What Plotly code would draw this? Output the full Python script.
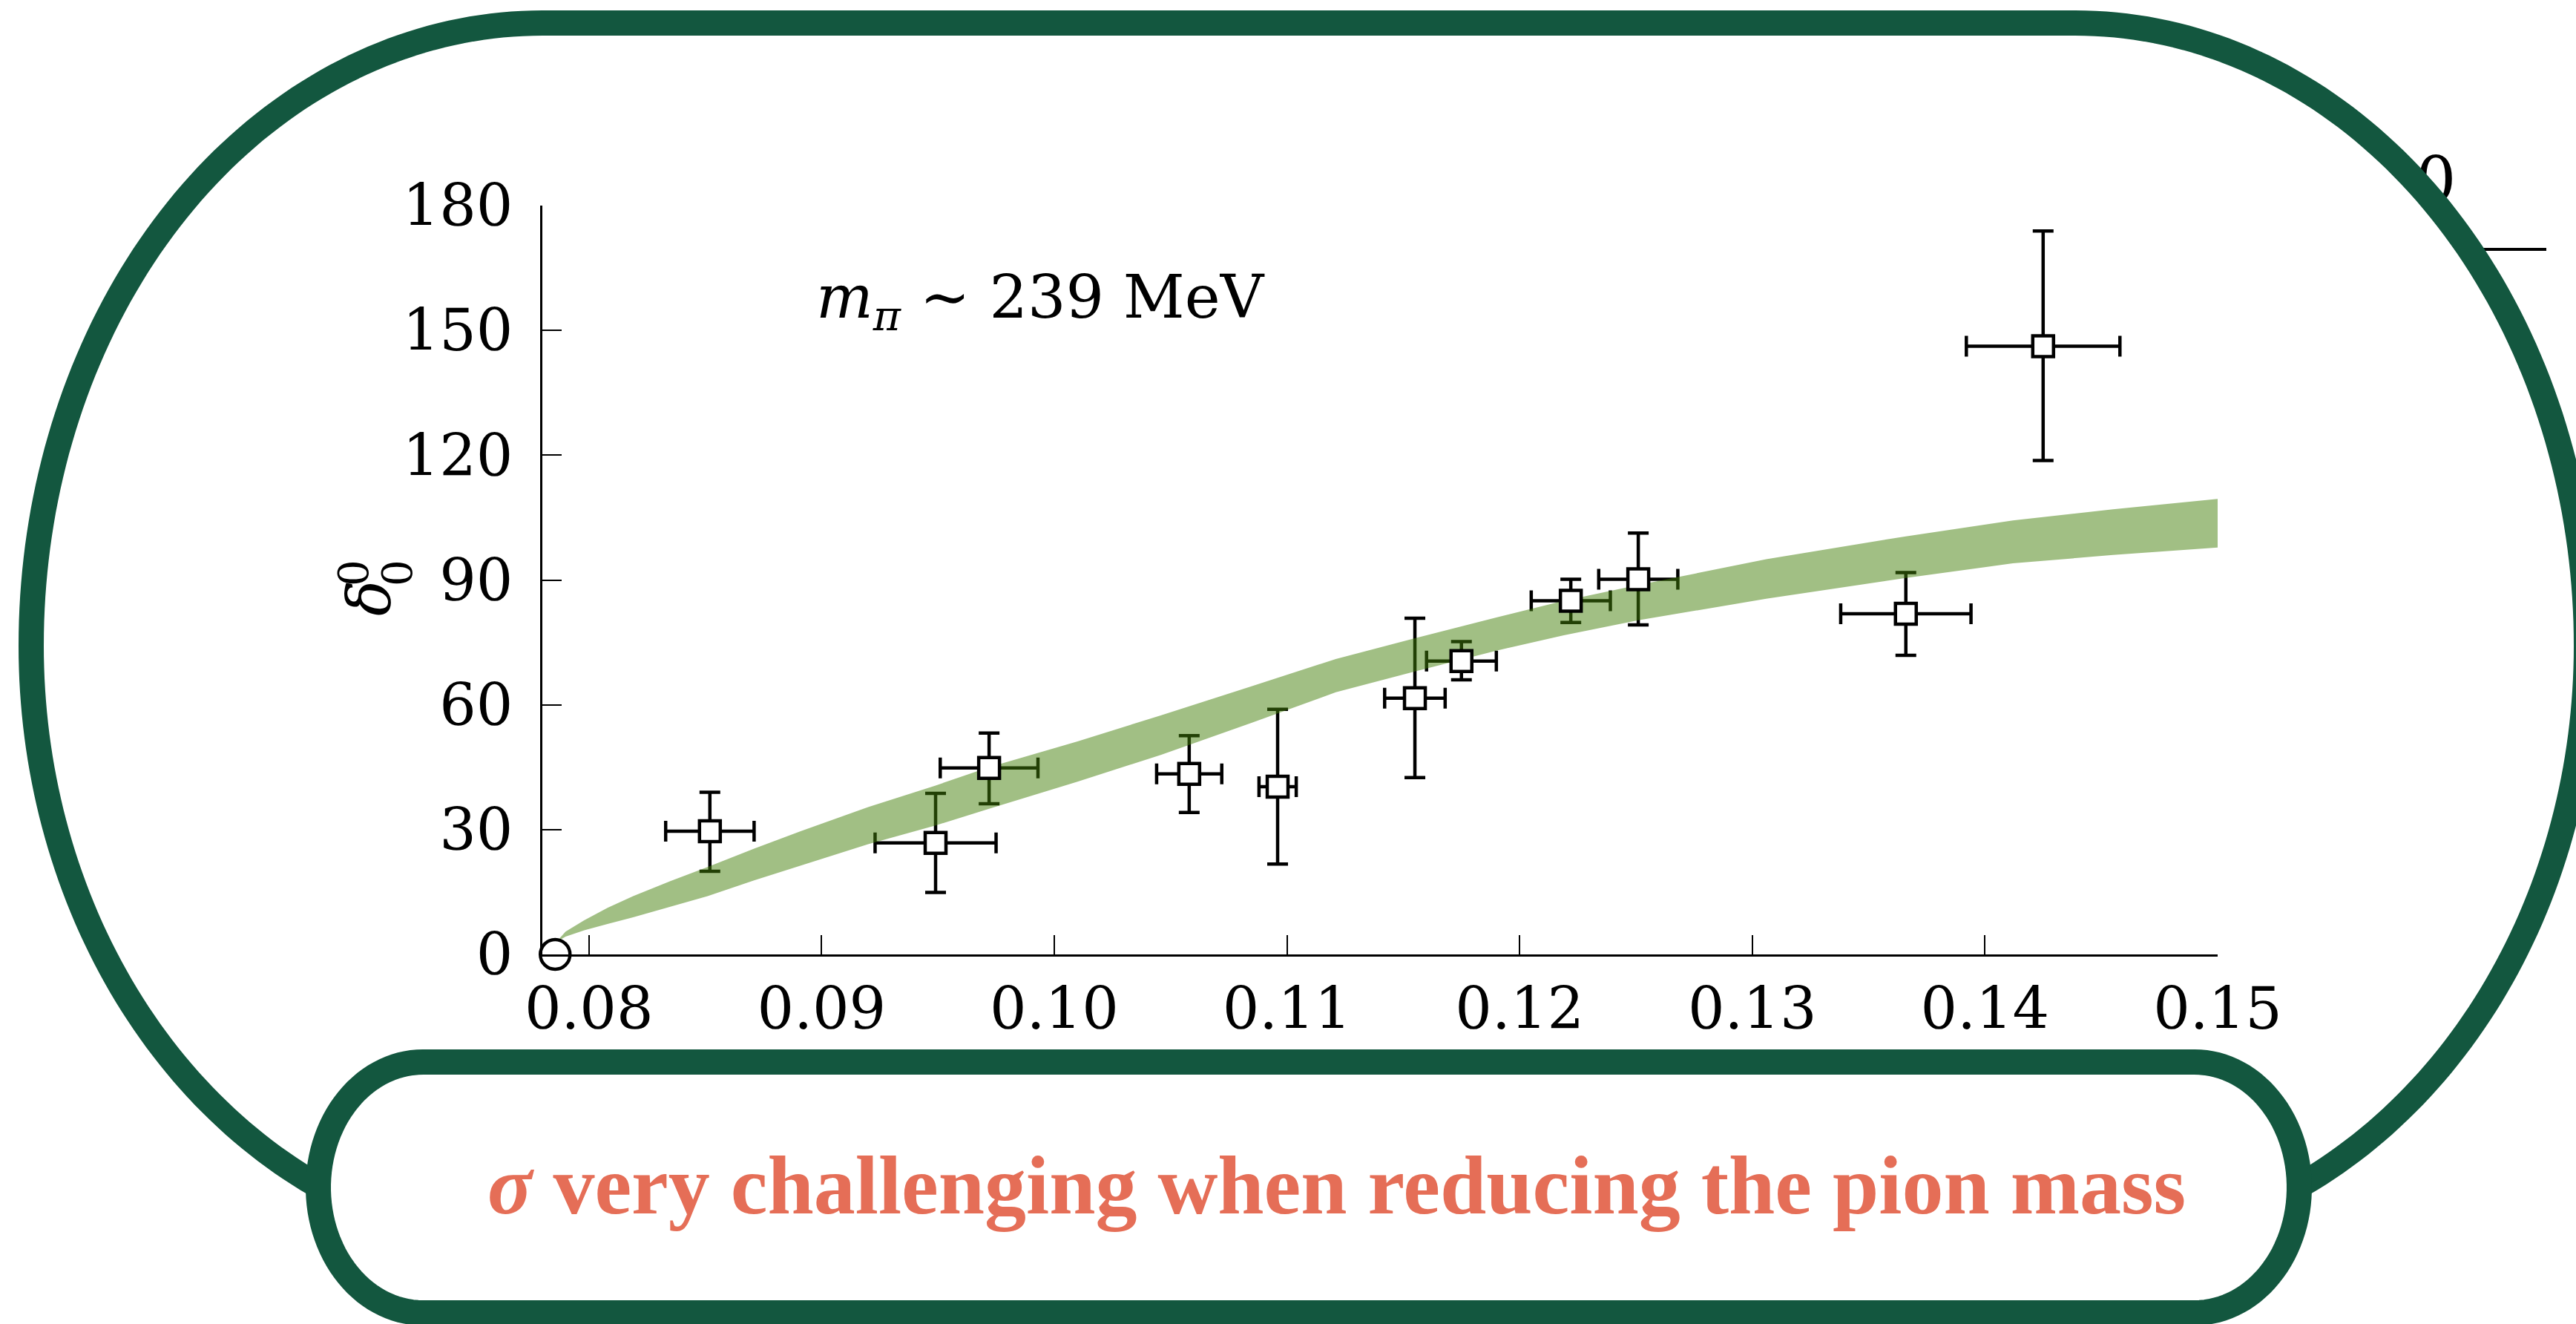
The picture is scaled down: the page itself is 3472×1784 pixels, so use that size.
import numpy as np
import plotly.graph_objects as go

# ---------------- data ----------------
x_pts = [0.0852, 0.0949, 0.0972, 0.1058, 0.1096, 0.1155, 0.1175, 0.1222, 0.1251, 0.1366, 0.1425]
y_pts = [29.6, 26.8, 44.8, 43.4, 40.3, 61.6, 70.5, 85.0, 90.2, 81.9, 146.2]
x_err = [0.0019, 0.0026, 0.0021, 0.0014, 0.0008, 0.0013, 0.0015, 0.0017, 0.0017, 0.0028, 0.0033]
y_err_plus = [9.4, 11.9, 8.4, 9.2, 18.6, 19.2, 4.7, 5.2, 11.1, 9.9, 27.7]
y_err_minus = [9.6, 11.9, 8.6, 9.3, 18.6, 19.1, 4.5, 5.2, 11.0, 10.0, 27.5]

threshold_x = [0.07855]
threshold_y = [0.0]

band_x = [0.0786, 0.0790, 0.0798, 0.0808, 0.0819, 0.0835, 0.0851, 0.0871, 0.0891, 0.0920,
          0.0949, 0.0972, 0.1010, 0.1046, 0.1085, 0.1121, 0.1155, 0.1190, 0.1219, 0.1251,
          0.1306, 0.1366, 0.1412, 0.1455, 0.1500]
band_upper = [3.0, 5.5, 8.2, 11.2, 14.0, 17.6, 21.0, 25.4, 29.6, 35.4,
              40.6, 45.0, 51.2, 57.5, 64.5, 71.0, 76.0, 81.0, 85.0, 88.8,
              95.0, 100.5, 104.3, 107.0, 109.5]
band_lower = [3.0, 4.3, 5.8, 7.3, 8.9, 11.4, 14.0, 17.8, 21.4, 26.5,
              31.0, 35.0, 41.5, 48.0, 55.7, 63.0, 68.0, 73.0, 76.7, 80.3,
              85.5, 90.5, 94.0, 96.0, 97.8]

x_ticks = [0.08, 0.09, 0.10, 0.11, 0.12, 0.13, 0.14, 0.15]
x_ticklabels = ["0.08", "0.09", "0.10", "0.11", "0.12", "0.13", "0.14", "0.15"]
y_ticks = [0, 30, 60, 90, 120, 150, 180]
y_ticklabels = ["0", "30", "60", "90", "120", "150", "180"]

label_text = "<i>m</i><sub><i>π</i></sub> ∼ 239 MeV"
banner_text = "<b><i>σ</i> very challenging when reducing the pion mass</b>"
stray_text = ["0"]

# ---------------- layout geometry (pixels of the 3472x1784 page) ----------------
W, H = 3472, 1784
L, RR, T, B = 731, 2989, 277, 1286
FRAME = "#13573F"
SERIF = "DejaVu Serif"
BANNER_FONT = "Liberation Serif"


def paper(px, py):
    return px / W, 1 - py / H


def path_from(points, close=False):
    s = []
    for i, (px, py) in enumerate(points):
        x, y = paper(px, py)
        s.append(("M" if i == 0 else "L") + f"{x:.5f},{y:.5f}")
    if close:
        s.append("Z")
    return " ".join(s)


# big rounded frame: two half-ellipses joined by a flat top; its bottom ends hide under the banner
CXL, CXR, CY, RX, RY_TOP, RY_BOT = 731, 2797, 870, 689, 839, 810
t_join = np.arccos((CXL - 425) / RX)
frame_pts = [(560, 1665)]
for t in np.linspace(t_join, 0, 60):
    frame_pts.append((CXL - RX * np.cos(t), CY + RY_BOT * np.sin(t)))
for t in np.linspace(0, np.pi / 2, 80)[1:]:
    frame_pts.append((CXL - RX * np.cos(t), CY - RY_TOP * np.sin(t)))
for t in np.linspace(np.pi / 2, 0, 80):
    frame_pts.append((CXR + RX * np.cos(t), CY - RY_TOP * np.sin(t)))
for t in np.linspace(0, t_join, 60)[1:]:
    frame_pts.append((CXR + RX * np.cos(t), CY + RY_BOT * np.sin(t)))
frame_pts.append((2968, 1665))

# lower banner box
box_pts = [(570, 1431), (2958, 1431)]
for s in np.linspace(0, np.pi, 60)[1:]:
    box_pts.append((2958 + 141 * np.sin(s), 1600 - 169 * np.cos(s)))
box_pts.append((570, 1769))
for s in np.linspace(0, np.pi, 60)[1:]:
    box_pts.append((570 - 141 * np.sin(s), 1600 + 169 * np.cos(s)))

fig = go.Figure()

# error bars (below the band)
fig.add_trace(go.Scatter(
    x=x_pts, y=y_pts, mode="markers",
    marker=dict(size=1, color="rgba(0,0,0,0)"),
    error_x=dict(type="data", array=x_err, color="black", thickness=4.5, width=14),
    error_y=dict(type="data", array=y_err_plus, arrayminus=y_err_minus,
                 color="black", thickness=4.5, width=14),
    cliponaxis=False, hoverinfo="skip"))

# band
fig.add_trace(go.Scatter(
    x=band_x + band_x[::-1], y=band_upper + band_lower[::-1],
    mode="lines", fill="toself", fillcolor="rgba(67,127,9,0.5)",
    line=dict(width=0), hoverinfo="skip", cliponaxis=False))

# square markers on top
fig.add_trace(go.Scatter(
    x=x_pts, y=y_pts, mode="markers",
    marker=dict(symbol="square", size=28, color="white", line=dict(color="black", width=4.5)),
    cliponaxis=False))

# threshold open circle
fig.add_trace(go.Scatter(
    x=threshold_x, y=threshold_y, mode="markers",
    marker=dict(symbol="circle", size=40, color="white", line=dict(color="black", width=4.5)),
    cliponaxis=False))

# stray "0" from the slide, lying behind the frame (full-page pixel axes)
fig.add_trace(go.Scatter(
    x=[3283], y=[250], mode="text", text=stray_text, xaxis="x2", yaxis="y2",
    textfont=dict(family=SERIF, size=86, color="black"),
    cliponaxis=False, hoverinfo="skip"))

shapes = [
    dict(type="line", xref="paper", yref="paper",
         x0=paper(3330, 336)[0], y0=paper(3330, 336)[1],
         x1=paper(3432, 336)[0], y1=paper(3432, 336)[1],
         line=dict(color="black", width=4), layer="below"),
    dict(type="path", xref="paper", yref="paper", path=path_from(frame_pts),
         line=dict(color=FRAME, width=34), fillcolor="rgba(0,0,0,0)", layer="above"),
    dict(type="path", xref="paper", yref="paper", path=path_from(box_pts, close=True),
         line=dict(color=FRAME, width=34), fillcolor="white", layer="above"),
]

annotations = []
ax, ay = paper(1098, 405)
annotations.append(dict(xref="paper", yref="paper", x=ax, y=ay, xanchor="left", yanchor="middle",
                        text=label_text, showarrow=False,
                        font=dict(family=SERIF, size=81, color="black")))
bx, by = paper(1801, 1597)
annotations.append(dict(xref="paper", yref="paper", x=bx, y=by, xanchor="center", yanchor="middle",
                        text=banner_text, showarrow=False,
                        font=dict(family=BANNER_FONT, size=112, color="#E56E57")))
# y-axis title delta_0^0 (rotated)
dx, dy = paper(497, 806)
annotations.append(dict(xref="paper", yref="paper", x=dx, y=dy, xanchor="center", yanchor="middle",
                        text="<i>δ</i>", textangle=-90, showarrow=False,
                        font=dict(family=SERIF, size=80, color="black")))
sx, sy = paper(476, 772)
annotations.append(dict(xref="paper", yref="paper", x=sx, y=sy, xanchor="center", yanchor="middle",
                        text="0", textangle=-90, showarrow=False,
                        font=dict(family=SERIF, size=56, color="black")))
ux, uy = paper(535, 772)
annotations.append(dict(xref="paper", yref="paper", x=ux, y=uy, xanchor="center", yanchor="middle",
                        text="0", textangle=-90, showarrow=False,
                        font=dict(family=SERIF, size=56, color="black")))

fig.update_layout(
    template="none",
    width=W, height=H,
    margin=dict(l=0, r=0, t=0, b=0, pad=0, autoexpand=False),
    paper_bgcolor="white", plot_bgcolor="rgba(0,0,0,0)",
    showlegend=False,
    shapes=shapes, annotations=annotations,
    xaxis=dict(domain=[L / W, RR / W], range=[0.078, 0.15], automargin=False,
               tickvals=x_ticks, ticktext=x_ticklabels,
               ticks="inside", ticklen=26, tickwidth=2, tickcolor="black",
               showline=True, linewidth=3, linecolor="black",
               showgrid=False, zeroline=False, ticklabelstandoff=3,
               tickfont=dict(family=SERIF, size=78, color="black")),
    yaxis=dict(domain=[1 - B / H, 1 - T / H], range=[0, 180], automargin=False,
               tickvals=y_ticks, ticktext=y_ticklabels,
               ticks="inside", ticklen=26, tickwidth=2, tickcolor="black",
               showline=True, linewidth=3, linecolor="black",
               showgrid=False, zeroline=False, ticklabelstandoff=21,
               tickfont=dict(family=SERIF, size=78, color="black")),
    xaxis2=dict(domain=[0, 1], range=[0, W], visible=False, anchor="y2",
                fixedrange=True, automargin=False),
    yaxis2=dict(domain=[0, 1], range=[H, 0], visible=False, anchor="x2",
                fixedrange=True, automargin=False),
)

fig.write_html("out.html")
